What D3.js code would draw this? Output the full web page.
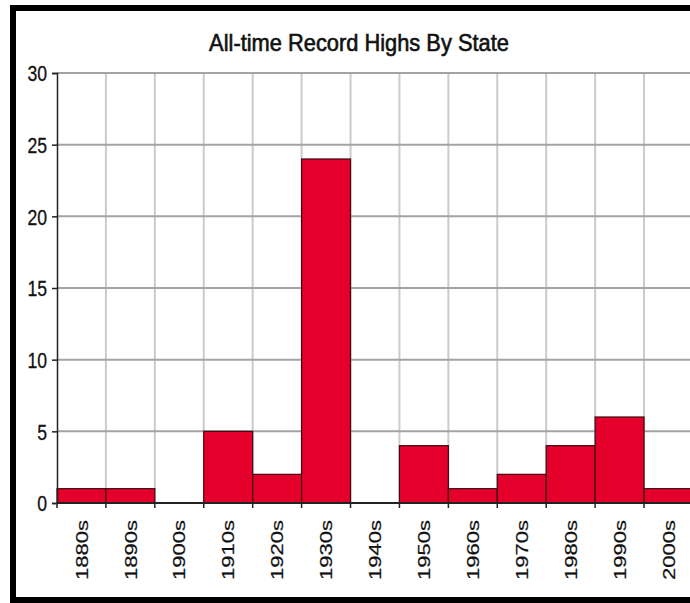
<!DOCTYPE html>
<html>
<head>
<meta charset="utf-8">
<script src="https://cdnjs.cloudflare.com/ajax/libs/d3/7.8.5/d3.min.js"></script>
<style>
  html, body { margin: 0; padding: 0; background: #fff; overflow: hidden; }
  svg { display: block; }
  text { font-family: "Liberation Sans", Arial, sans-serif; fill: #111; }
</style>
</head>
<body>
<div id="chart"></div>
<script>
// Data
var decades = ["1880s", "1890s", "1900s", "1910s", "1920s", "1930s", "1940s",
               "1950s", "1960s", "1970s", "1980s", "1990s", "2000s"];
var records = [1, 1, 0, 5, 2, 24, 0, 4, 1, 2, 4, 6, 1];
var yTicks = [0, 5, 10, 15, 20, 25, 30];
var title = "All-time Record Highs By State";

var svgWidth = 690;
var svgHeight = 603;
var margin = { top: 73, left: 57, bottom: 100 };
var plotBottom = 503;
var step = 48.92;

var svg = d3.select("#chart")
    .append("svg")
    .attr("width", svgWidth)
    .attr("height", svgHeight);

var data = decades.map(function (d, i) {
    return { decade: d, value: records[i] };
});

// scales
var x = d3.scaleBand()
    .domain(decades)
    .range([margin.left, margin.left + step * decades.length])
    .padding(0);

var y = d3.scaleLinear()
    .domain([0, 30])
    .range([plotBottom, margin.top]);

// vertical gridlines at category boundaries
svg.append("g")
    .selectAll("line")
    .data(decades.slice(1))
    .enter()
    .append("line")
    .attr("x1", function (d) { return x(d); })
    .attr("x2", function (d) { return x(d); })
    .attr("y1", y(30))
    .attr("y2", y(0))
    .attr("stroke", "#cbcbcb")
    .attr("stroke-width", 2);

// horizontal gridlines
svg.append("g")
    .selectAll("line")
    .data(yTicks.slice(1))
    .enter()
    .append("line")
    .attr("x1", margin.left)
    .attr("x2", svgWidth)
    .attr("y1", function (d) { return y(d); })
    .attr("y2", function (d) { return y(d); })
    .attr("stroke", "#a3a3a3")
    .attr("stroke-width", 2);

// bars
svg.append("g")
    .selectAll("rect")
    .data(data.filter(function (d) { return d.value > 0; }))
    .enter()
    .append("rect")
    .attr("x", function (d) { return x(d.decade); })
    .attr("y", function (d) { return y(d.value); })
    .attr("width", x.bandwidth())
    .attr("height", function (d) { return y(0) - y(d.value); })
    .attr("fill", "#e4002b")
    .attr("stroke", "#3d0a0f")
    .attr("stroke-width", 1.2);

// y axis
var leftAxis = d3.axisLeft(y)
    .tickValues(yTicks)
    .tickSize(5)
    .tickPadding(4)
    .tickFormat(d3.format("d"));

var yAxis = svg.append("g")
    .attr("transform", "translate(" + margin.left + ",0)")
    .call(leftAxis);
yAxis.select(".domain").attr("stroke", "#222").attr("stroke-width", 1.5);
yAxis.selectAll(".tick line").attr("stroke", "#222").attr("stroke-width", 1.5);
yAxis.selectAll(".tick text")
    .attr("font-size", 22)
    .attr("x", 0)
    .attr("dy", "0.36em")
    .attr("stroke", "#111")
    .attr("stroke-width", 0.3)
    .attr("transform", "translate(-10,0) scale(0.8,1)");

// x axis line
svg.append("line")
    .attr("x1", margin.left)
    .attr("x2", svgWidth)
    .attr("y1", y(0))
    .attr("y2", y(0))
    .attr("stroke", "#222")
    .attr("stroke-width", 1.8);

// x ticks at category boundaries
svg.append("g")
    .selectAll("line")
    .data(decades)
    .enter()
    .append("line")
    .attr("x1", function (d) { return x(d); })
    .attr("x2", function (d) { return x(d); })
    .attr("y1", y(0))
    .attr("y2", y(0) + 5)
    .attr("stroke", "#222")
    .attr("stroke-width", 1.5);

// x labels, rotated
svg.append("g")
    .selectAll("text")
    .data(decades)
    .enter()
    .append("text")
    .attr("transform", function (d) {
        return "translate(" + (x(d) + x.bandwidth() / 2) + "," + 520 + ") scale(0.78,1) rotate(-90)";
    })
    .attr("text-anchor", "end")
    .attr("dy", "0.36em")
    .attr("font-size", 22)
    .attr("stroke", "#111")
    .attr("stroke-width", 0.3)
    .text(function (d) { return d; });

// title
svg.append("text")
    .attr("transform", "translate(359,51) scale(0.95,1)")
    .attr("text-anchor", "middle")
    .attr("font-size", 23)
    .attr("stroke", "#111")
    .attr("stroke-width", 0.6)
    .text(title);

// black frame: top, left and bottom edges (right edge is cut off in the source)
var frame = svg.append("g").attr("stroke", "#000").attr("stroke-width", 6);
frame.append("line").attr("x1", 10).attr("x2", svgWidth).attr("y1", 8).attr("y2", 8);
frame.append("line").attr("x1", 13).attr("x2", 13).attr("y1", 5).attr("y2", 603);
frame.append("line").attr("x1", 10).attr("x2", svgWidth).attr("y1", 600).attr("y2", 600);
</script>
</body>
</html>
